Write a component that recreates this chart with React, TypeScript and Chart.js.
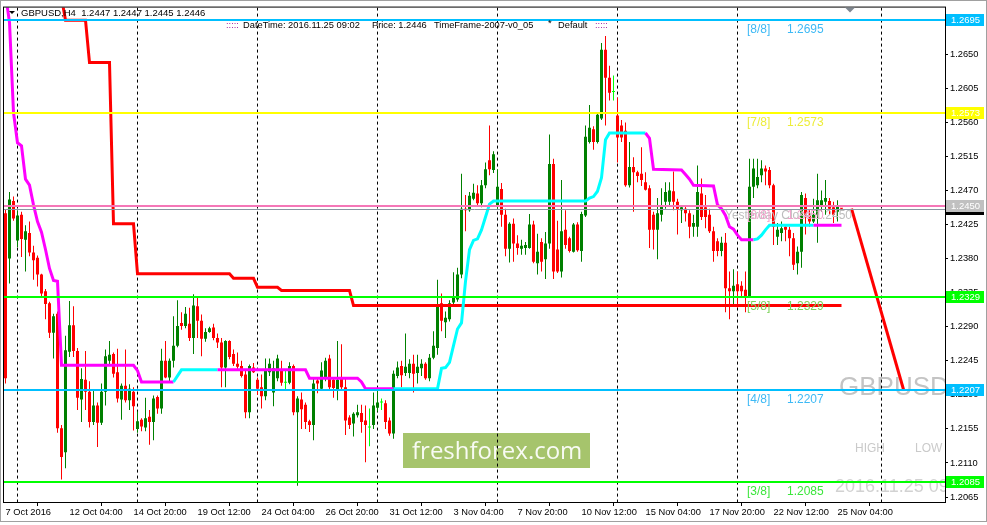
import React, { useEffect, useRef } from 'react';
import { Chart, registerables } from 'chart.js';

Chart.register(...registerables);

const FONT = '"Liberation Sans", Arial, sans-serif';

// ---------- DATA ----------
const symbolName = 'GBPUSD';
const headerText = 'GBPUSD,H4  1.2447 1.2447 1.2445 1.2446';

const opens = [
  1.2440,1.2380,1.2456,1.2404,1.2438,1.2405,1.2414,1.2388,1.2381,1.2359,
  1.2337,1.2321,1.2282,1.2307,1.2156,1.2124,1.2257,1.2292,1.2258,1.2194,
  1.2220,1.2204,1.2164,1.2186,1.2163,1.2204,1.2245,1.2254,1.2230,1.2194,
  1.2212,1.2193,1.2204,1.2155,1.2167,1.2157,1.2171,1.2164,1.2197,1.2182,
  1.2245,1.2223,1.2245,1.2265,1.2295,1.2291,1.2294,1.2275,1.2317,1.2298,
  1.2274,1.2283,1.2289,1.2275,1.2269,1.2236,1.2271,1.2254,1.2241,1.2238,
  1.2227,1.2177,1.2236,1.2220,1.2210,1.2198,1.2230,1.2203,1.2222,1.2232,
  1.2216,1.2216,1.2238,1.2177,1.2194,1.2187,1.2165,1.2160,1.2219,1.2208,
  1.2222,1.2248,1.2220,1.2207,1.2222,1.2210,1.2170,1.2162,1.2173,1.2176,
  1.2166,1.2157,1.2160,1.2183,1.2190,1.2189,1.2166,1.2149,1.2225,1.2238,
  1.2229,1.2229,1.2241,1.2229,1.2235,1.2241,1.2222,1.2249,1.2262,1.2321,
  1.2296,1.2300,1.2322,1.2326,1.2359,1.2446,1.2444,1.2459,1.2466,1.2453,
  1.2477,1.2510,1.2497,1.2449,1.2472,1.2438,1.2393,1.2426,1.2400,1.2393,
  1.2394,1.2394,1.2425,1.2374,1.2402,1.2379,1.2400,1.2505,1.2392,1.2363,
  1.2418,1.2407,1.2389,1.2425,1.2390,1.2437,1.2534,1.2551,1.2534,1.2565,
  1.2656,1.2619,1.2600,1.2569,1.2556,1.2549,1.2477,1.2501,1.2494,1.2492,
  1.2481,1.2473,1.2438,1.2418,1.2438,1.2455,1.2455,1.2469,1.2455,1.2444,
  1.2446,1.2440,1.2422,1.2422,1.2466,1.2448,1.2438,1.2416,1.2403,1.2390,
  1.2401,1.2341,1.2337,1.2346,1.2344,1.2339,1.2330,1.2475,1.2477,1.2490,
  1.2499,1.2497,1.2477,1.2409,1.2414,1.2422,1.2418,1.2407,1.2374,1.2389,
  1.2460,1.2438,1.2429,1.2438,1.2451,1.2455,1.2456,1.2448,1.2442,1.2447,
];
const highs = [
  1.2445,1.2468,1.2462,1.2444,1.2442,1.2424,1.2429,1.2397,1.2384,1.2360,
  1.2340,1.2323,1.2307,1.2310,1.2160,1.2278,1.2324,1.2317,1.2262,1.2235,
  1.2258,1.2218,1.2207,1.2190,1.2215,1.2260,1.2271,1.2256,1.2261,1.2215,
  1.2260,1.2214,1.2210,1.2178,1.2169,1.2196,1.2180,1.2199,1.2199,1.2261,
  1.2271,1.2248,1.2304,1.2325,1.2309,1.2316,1.2315,1.2333,1.2330,1.2306,
  1.2288,1.2290,1.2294,1.2281,1.2275,1.2272,1.2272,1.2260,1.2256,1.2245,
  1.2232,1.2240,1.2242,1.2223,1.2227,1.2248,1.2248,1.2245,1.2253,1.2245,
  1.2232,1.2243,1.2240,1.2198,1.2203,1.2190,1.2167,1.2221,1.2221,1.2243,
  1.2249,1.2253,1.2222,1.2271,1.2267,1.2222,1.2173,1.2177,1.2187,1.2187,
  1.2186,1.2182,1.2203,1.2205,1.2195,1.2193,1.2170,1.2232,1.2244,1.2245,
  1.2281,1.2247,1.2253,1.2253,1.2247,1.2243,1.2254,1.2284,1.2352,1.2334,
  1.2310,1.2325,1.2362,1.2368,1.2492,1.2464,1.2468,1.2479,1.2477,1.2484,
  1.2507,1.2556,1.2522,1.2498,1.2480,1.2446,1.2428,1.2433,1.2411,1.2405,
  1.2402,1.2439,1.2430,1.2413,1.2407,1.2415,1.2544,1.2512,1.2430,1.2484,
  1.2444,1.2409,1.2427,1.2428,1.2442,1.2556,1.2583,1.2555,1.2572,1.2665,
  1.2674,1.2635,1.2622,1.2593,1.2563,1.2560,1.2534,1.2514,1.2496,1.2527,
  1.2494,1.2477,1.2442,1.2460,1.2473,1.2481,1.2481,1.2495,1.2459,1.2450,
  1.2450,1.2444,1.2438,1.2503,1.2486,1.2464,1.2446,1.2422,1.2407,1.2409,
  1.2414,1.2363,1.2366,1.2363,1.2350,1.2363,1.2512,1.2512,1.2512,1.2510,
  1.2503,1.2501,1.2479,1.2427,1.2429,1.2425,1.2422,1.2414,1.2396,1.2468,
  1.2466,1.2444,1.2459,1.2492,1.2470,1.2484,1.2460,1.2455,1.2457,1.2447,
];
const lows = [
  1.2215,1.2347,1.2430,1.2395,1.2382,1.2363,1.2383,1.2352,1.2343,1.2330,
  1.2300,1.2275,1.2248,1.2150,1.2088,1.2103,1.2250,1.2250,1.2180,1.2164,
  1.2180,1.2157,1.2160,1.2131,1.2160,1.2186,1.2240,1.2223,1.2190,1.2167,
  1.2190,1.2180,1.2153,1.2150,1.2152,1.2152,1.2134,1.2140,1.2175,1.2175,
  1.2222,1.2218,1.2236,1.2263,1.2286,1.2288,1.2271,1.2254,1.2275,1.2251,
  1.2270,1.2282,1.2272,1.2262,1.2210,1.2210,1.2247,1.2238,1.2232,1.2223,
  1.2169,1.2169,1.2229,1.2200,1.2182,1.2193,1.2225,1.2185,1.2218,1.2212,
  1.2206,1.2214,1.2173,1.2080,1.2155,1.2155,1.2151,1.2140,1.2202,1.2205,
  1.2218,1.2206,1.2196,1.2193,1.2205,1.2147,1.2155,1.2145,1.2170,1.2150,
  1.2111,1.2132,1.2155,1.2178,1.2180,1.2155,1.2146,1.2142,1.2222,1.2210,
  1.2225,1.2222,1.2203,1.2215,1.2225,1.2220,1.2218,1.2247,1.2253,1.2284,
  1.2275,1.2297,1.2319,1.2323,1.2354,1.2416,1.2442,1.2457,1.2450,1.2448,
  1.2473,1.2490,1.2493,1.2446,1.2422,1.2383,1.2375,1.2376,1.2385,1.2385,
  1.2385,1.2393,1.2374,1.2359,1.2363,1.2353,1.2393,1.2353,1.2361,1.2355,
  1.2393,1.2388,1.2388,1.2389,1.2376,1.2435,1.2532,1.2524,1.2532,1.2563,
  1.2556,1.2589,1.2589,1.2507,1.2534,1.2475,1.2474,1.2442,1.2481,1.2476,
  1.2470,1.2394,1.2392,1.2379,1.2429,1.2446,1.2450,1.2444,1.2412,1.2427,
  1.2429,1.2407,1.2409,1.2409,1.2431,1.2420,1.2414,1.2376,1.2383,1.2383,
  1.2309,1.2300,1.2320,1.2315,1.2328,1.2309,1.2328,1.2460,1.2473,1.2481,
  1.2477,1.2473,1.2398,1.2398,1.2403,1.2403,1.2383,1.2365,1.2359,1.2368,
  1.2412,1.2422,1.2427,1.2401,1.2442,1.2438,1.2438,1.2427,1.2429,1.2445,
];
const closes = [
  1.2222,1.2458,1.2433,1.2437,1.2406,1.2416,1.2388,1.2378,1.2359,1.2334,
  1.2320,1.2282,1.2304,1.2156,1.2118,1.2259,1.2292,1.2258,1.2196,1.2221,
  1.2204,1.2164,1.2186,1.2163,1.2204,1.2251,1.2253,1.2228,1.2195,1.2212,
  1.2193,1.2208,1.2185,1.2165,1.2158,1.2169,1.2164,1.2195,1.2182,1.2245,
  1.2223,1.2245,1.2265,1.2291,1.2291,1.2307,1.2275,1.2318,1.2298,1.2274,
  1.2283,1.2288,1.2275,1.2269,1.2236,1.2271,1.2250,1.2241,1.2237,1.2225,
  1.2177,1.2238,1.2230,1.2208,1.2198,1.2232,1.2241,1.2235,1.2248,1.2216,
  1.2216,1.2238,1.2177,1.2195,1.2181,1.2164,1.2160,1.2215,1.2215,1.2232,
  1.2245,1.2210,1.2209,1.2220,1.2210,1.2166,1.2160,1.2175,1.2177,1.2164,
  1.2160,1.2157,1.2186,1.2190,1.2190,1.2164,1.2149,1.2228,1.2236,1.2226,
  1.2237,1.2241,1.2228,1.2237,1.2241,1.2222,1.2249,1.2265,1.2320,1.2298,
  1.2302,1.2321,1.2330,1.2359,1.2446,1.2444,1.2463,1.2467,1.2453,1.2477,
  1.2498,1.2498,1.2518,1.2475,1.2438,1.2393,1.2426,1.2400,1.2394,1.2397,
  1.2398,1.2425,1.2376,1.2389,1.2376,1.2400,1.2505,1.2363,1.2363,1.2416,
  1.2398,1.2390,1.2425,1.2391,1.2439,1.2541,1.2553,1.2534,1.2570,1.2656,
  1.2619,1.2599,1.2600,1.2540,1.2540,1.2477,1.2501,1.2494,1.2489,1.2484,
  1.2471,1.2418,1.2418,1.2440,1.2449,1.2468,1.2470,1.2455,1.2446,1.2448,
  1.2440,1.2422,1.2427,1.2468,1.2435,1.2435,1.2416,1.2390,1.2390,1.2401,
  1.2341,1.2337,1.2344,1.2337,1.2337,1.2330,1.2475,1.2499,1.2488,1.2499,
  1.2495,1.2477,1.2422,1.2418,1.2420,1.2418,1.2407,1.2372,1.2389,1.2464,
  1.2438,1.2429,1.2438,1.2457,1.2457,1.2460,1.2446,1.2438,1.2451,1.2446,
];

// time axis (bar index -> label)
const xTickBars = [0, 16, 32, 48, 64, 80, 96, 112, 128, 144, 160, 176, 192, 208];
const xTickLabels = [
  '7 Oct 2016', '12 Oct 04:00', '14 Oct 20:00', '19 Oct 12:00', '24 Oct 04:00',
  '26 Oct 20:00', '31 Oct 12:00', '3 Nov 04:00', '7 Nov 20:00', '10 Nov 12:00',
  '15 Nov 04:00', '17 Nov 20:00', '22 Nov 12:00', '25 Nov 04:00',
];
const weekSeparators = [3, 33, 63, 93, 123, 153, 183, 219];

// price axis
const yTicks = [1.2065, 1.2110, 1.2155, 1.2200, 1.2245, 1.2290, 1.2335, 1.2380, 1.2425, 1.2470, 1.2515, 1.2560, 1.2605, 1.2650, 1.2695];
const yMin = 1.20584;
const yMax = 1.27117;

// Murrey math levels
const murreyLevels = [1.2695, 1.2573, 1.2450, 1.2329, 1.2207, 1.2085];
const murreyNames = ['[8/8]', '[7/8]', '[6/8]', '[5/8]', '[4/8]', '[3/8]'];
const murreyColors = ['#00BFFF', '#FFFF00', '#F577B8', '#00FF00', '#00BFFF', '#00FF00'];
const murreyTextColors = ['#3DB9F5', '#EDED3A', '#F2A2CC', '#7CD35A', '#3DB9F5', '#3CE63C'];

const bidPrice = 1.2446;
const yesterdayClose = 1.2450;

// trailing stop (red step line)
const stopBars = [14, 15, 20, 21, 26, 27, 32, 33, 56, 57, 62, 63, 68, 69, 86, 87, 209];
const stopValues = [1.2725, 1.2695, 1.2695, 1.2639, 1.2639, 1.2426, 1.2426, 1.2360, 1.2360, 1.2354, 1.2354, 1.2342, 1.2342, 1.2338, 1.2338, 1.2318, 1.2318];

// trend line (magenta = down, cyan = up)
const trendBars = [0,1,2,3,4,5,6,7,8,9,10,11,12,13,14,32,33,34,42,43,44,53,75,76,88,89,90,97,108,109,110,111,112,113,114,115,116,117,118,119,120,121,122,145,146,147,148,149,150,151,160,161,162,169,170,171,172,177,178,179,180,181,182,183,184,186,187,188,189,190,191,202,209];
const trendValues = [1.2730,1.2692,1.2573,1.2533,1.2529,1.2485,1.2477,1.2451,1.2429,1.2415,1.2392,1.2367,1.2351,1.2350,1.2239,1.2239,1.2232,1.2217,1.2217,1.2225,1.2233,1.2233,1.2233,1.2222,1.2222,1.2217,1.2208,1.2208,1.2208,1.2235,1.2236,1.2243,1.2265,1.2287,1.2295,1.2350,1.2392,1.2404,1.2406,1.2418,1.2435,1.2452,1.2456,1.2456,1.2460,1.2462,1.2469,1.2487,1.2537,1.2546,1.2546,1.2539,1.2498,1.2497,1.2491,1.2485,1.2477,1.2476,1.2451,1.2446,1.2437,1.2422,1.2419,1.2411,1.2405,1.2405,1.2405,1.2406,1.2411,1.2418,1.2424,1.2424,1.2424];
const trendDirs = 'ddddddddddddddddddduuudddddduuuuuuuuuuuuuuuuuuuuuuudddddddddddddddduuuuudu';

// projection (red diagonal)
const projectionBars = [211.5, 224.5];
const projectionValues = [1.2446, 1.2207];

export default function App() {
  const ref = useRef<HTMLCanvasElement>(null);

  useEffect(() => {
    const canvas = ref.current;
    if (!canvas) return;
    const idx = opens.map((_, i) => i);
    const colorOf = (i: number) =>
      closes[i] > opens[i] ? '#008000' : closes[i] < opens[i] ? '#FF0000' : '#00FF00';
    const colors = idx.map(colorOf);

    const overlay = {
      id: 'mt4overlay',
      beforeDraw(chart: any) {
        const { ctx, width, height } = chart;
        ctx.save();
        ctx.fillStyle = '#FFFFFF';
        ctx.fillRect(0, 0, width, height);
        ctx.restore();
      },
      beforeDatasetsDraw(chart: any) {
        const { ctx, chartArea: a, scales } = chart;
        const xs = scales.x;
        ctx.save();
        ctx.beginPath();
        ctx.rect(a.left, a.top, a.right - a.left, a.bottom - a.top);
        ctx.clip();
        // watermark box
        ctx.fillStyle = '#A6C46C';
        ctx.fillRect(403, 433, 187, 35);
        ctx.fillStyle = 'rgba(255,255,255,0.92)';
        ctx.font = `24px "Open Sans", ${FONT}`;
        ctx.textBaseline = 'alphabetic';
        ctx.textAlign = 'left';
        ctx.fillText('freshforex.com', 412, 459);
        // big symbol + info
        ctx.fillStyle = '#C4C4C4';
        ctx.font = `26px ${FONT}`;
        ctx.fillText(symbolName, 839, 395);
        ctx.font = `12px ${FONT}`;
        ctx.fillStyle = '#CACACA';
        ctx.fillText('HIGH', 855, 452);
        ctx.fillText('LOW', 915, 452);
        ctx.font = `18px ${FONT}`;
        ctx.fillStyle = '#D2D2D2';
        ctx.fillText('2016.11.25 09:02', 835, 492);
        // week separators
        ctx.strokeStyle = '#000000';
        ctx.lineWidth = 1;
        ctx.setLineDash([3, 3]);
        weekSeparators.forEach((b) => {
          const px = Math.round(xs.getPixelForValue(b)) - 0.5;
          ctx.beginPath();
          ctx.moveTo(px, a.top);
          ctx.lineTo(px, a.bottom);
          ctx.stroke();
        });
        ctx.restore();
      },
      afterDatasetsDraw(chart: any) {
        const { ctx, chartArea: a, scales } = chart;
        const ys = scales.y;
        ctx.save();
        ctx.beginPath();
        ctx.rect(a.left, a.top, a.right - a.left, a.bottom - a.top);
        ctx.clip();
        // bid line
        const pb = Math.round(ys.getPixelForValue(bidPrice)) + 0.5;
        ctx.strokeStyle = '#8A96A3';
        ctx.lineWidth = 1;
        ctx.beginPath();
        ctx.moveTo(a.left, pb);
        ctx.lineTo(a.right, pb);
        ctx.stroke();
        // murrey levels
        murreyLevels.forEach((lv, k) => {
          const py = Math.round(ys.getPixelForValue(lv));
          ctx.strokeStyle = murreyColors[k];
          ctx.lineWidth = 2;
          ctx.beginPath();
          ctx.moveTo(a.left, py);
          ctx.lineTo(a.right, py);
          ctx.stroke();
        });
        ctx.font = `12px ${FONT}`;
        ctx.textBaseline = 'alphabetic';
        ctx.textAlign = 'left';
        // yesterday close label
        const py6 = ys.getPixelForValue(yesterdayClose);
        ctx.fillStyle = '#BDBDBD';
        ctx.fillText('Yesterday Close 1.2450', 725, py6 + 13);
        murreyLevels.forEach((lv, k) => {
          const py = ys.getPixelForValue(lv);
          ctx.fillStyle = murreyTextColors[k];
          ctx.fillText(murreyNames[k], 747, py + 13);
          ctx.fillText(lv.toFixed(4), 787, py + 13);
        });
        ctx.restore();
      },
      afterDraw(chart: any) {
        const { ctx, chartArea: a, scales, width, height } = chart;
        const ys = scales.y;
        ctx.save();
        // plot frame
        ctx.strokeStyle = '#000000';
        ctx.lineWidth = 1;
        ctx.strokeRect(a.left - 0.5, a.top - 0.5, a.right - a.left + 1, a.bottom - a.top + 1);
        // outer window border
        ctx.strokeStyle = '#A0A0A0';
        ctx.strokeRect(0.5, 0.5, width - 1, height - 4);
        // price boxes on the right axis
        ctx.font = `9.5px ${FONT}`;
        ctx.textBaseline = 'middle';
        ctx.textAlign = 'left';
        const drawBox = (v: number, bg: string, fg: string) => {
          const py = Math.round(ys.getPixelForValue(v));
          ctx.fillStyle = bg;
          ctx.fillRect(a.right + 1, py - 6, 38, 12);
          ctx.fillStyle = fg;
          ctx.fillText(v.toFixed(4), a.right + 6, py + 0.5);
        };
        drawBox(bidPrice, '#000000', '#FFFFFF');
        murreyLevels.forEach((lv, k) => {
          if (k === 2) drawBox(lv, '#C0C0C0', '#FFFFFF');
          else drawBox(lv, murreyColors[k], '#FFFFFF');
        });
        // header
        ctx.fillStyle = '#000000';
        ctx.beginPath();
        ctx.moveTo(9, 11);
        ctx.lineTo(15, 11);
        ctx.lineTo(12, 14);
        ctx.closePath();
        ctx.fill();
        ctx.font = `9.5px ${FONT}`;
        ctx.textBaseline = 'middle';
        ctx.fillText(headerText, 21, 13);
        ctx.font = `9.3px ${FONT}`;
        ctx.fillStyle = '#A020A0';
        ctx.fillText(':::::', 226, 25);
        ctx.fillText(':::::', 595, 25);
        ctx.fillStyle = '#000000';
        ctx.fillText('DateTime: 2016.11.25 09:02', 243, 25);
        ctx.fillText('Price: 1.2446', 372, 25);
        ctx.fillText('TimeFrame-2007-v0_05', 434, 25);
        ctx.fillText('*', 548, 23);
        ctx.fillText('Default', 558, 25);
        // chart shift marker
        ctx.fillStyle = '#7F8790';
        ctx.beginPath();
        ctx.moveTo(845, a.top);
        ctx.lineTo(855, a.top);
        ctx.lineTo(850, a.top + 5);
        ctx.closePath();
        ctx.fill();
        ctx.restore();
      },
    };

    const chart = new Chart(canvas, {
      type: 'bar',
      data: {
        datasets: [
          {
            type: 'line',
            label: 'projection',
            data: projectionBars.map((b, k) => ({ x: b, y: projectionValues[k] })),
            borderColor: '#FF0000',
            borderWidth: 3,
            pointRadius: 0,
            clip: 0,
            order: 0,
          } as any,
          {
            type: 'line',
            label: 'trend',
            data: trendBars.map((b, k) => ({ x: b, y: trendValues[k] })),
            borderColor: '#FF00FF',
            borderWidth: 3,
            pointRadius: 0,
            clip: 0,
            segment: {
              borderColor: (c: any) => (trendDirs[c.p1DataIndex] === 'u' ? '#00FFFF' : '#FF00FF'),
            },
            order: 0,
          } as any,
          {
            type: 'line',
            label: 'stop',
            data: stopBars.map((b, k) => ({ x: b, y: stopValues[k] })),
            borderColor: '#FF0000',
            borderWidth: 3,
            pointRadius: 0,
            clip: 0,
            order: 0,
          } as any,
          {
            type: 'bar',
            label: 'bodies',
            data: idx.map((i) => ({ x: i, y: [opens[i], closes[i]] })),
            backgroundColor: colors,
            borderWidth: 0,
            barThickness: 3,
            minBarLength: 1,
            grouped: false,
            inflateAmount: 0,
            order: 1,
          } as any,
          {
            type: 'bar',
            label: 'wicks',
            data: idx.map((i) => ({ x: i, y: [lows[i], highs[i]] })),
            backgroundColor: colors,
            borderWidth: 0,
            barThickness: 1,
            minBarLength: 1,
            grouped: false,
            inflateAmount: 0,
            order: 2,
          } as any,
        ],
      },
      options: {
        animation: false,
        responsive: false,
        events: [],
        layout: { padding: { left: 4, top: 4, right: 0, bottom: 0 } },
        plugins: { legend: { display: false }, tooltip: { enabled: false } },
        scales: {
          x: {
            type: 'linear',
            min: -0.375,
            max: 234.875,
            offset: false,
            afterBuildTicks: (s: any) => {
              s.ticks = xTickBars.map((v) => ({ value: v }));
            },
            afterFit: (s: any) => {
              s.height = 23;
            },
            ticks: {
              autoSkip: false,
              maxRotation: 0,
              minRotation: 0,
              align: 'start',
              padding: 1,
              color: '#000000',
              font: { family: FONT, size: 9.3 },
              callback: (v: any) => {
                const k = xTickBars.indexOf(Number(v));
                return k >= 0 ? xTickLabels[k] : '';
              },
            },
            grid: { drawOnChartArea: false, drawTicks: true, tickLength: 4, color: '#000000' },
            border: { display: true, color: '#000000' },
          },
          y: {
            type: 'linear',
            position: 'right',
            min: yMin,
            max: yMax,
            afterBuildTicks: (s: any) => {
              s.ticks = yTicks.map((v) => ({ value: v }));
            },
            afterFit: (s: any) => {
              s.width = 42;
            },
            ticks: {
              autoSkip: false,
              padding: 2,
              color: '#000000',
              font: { family: FONT, size: 9.3 },
              callback: (v: any) => Number(v).toFixed(4),
            },
            grid: { drawOnChartArea: false, drawTicks: true, tickLength: 3, color: '#000000' },
            border: { display: true, color: '#000000' },
          },
        },
      } as any,
      plugins: [overlay],
    });
    return () => chart.destroy();
  }, []);

  return (
    <div style={{ position: 'fixed', left: 0, top: 0, width: 987, height: 525, background: '#FFFFFF' }}>
      <canvas ref={ref} width={987} height={525} style={{ display: 'block', width: 987, height: 525 }} />
    </div>
  );
}
